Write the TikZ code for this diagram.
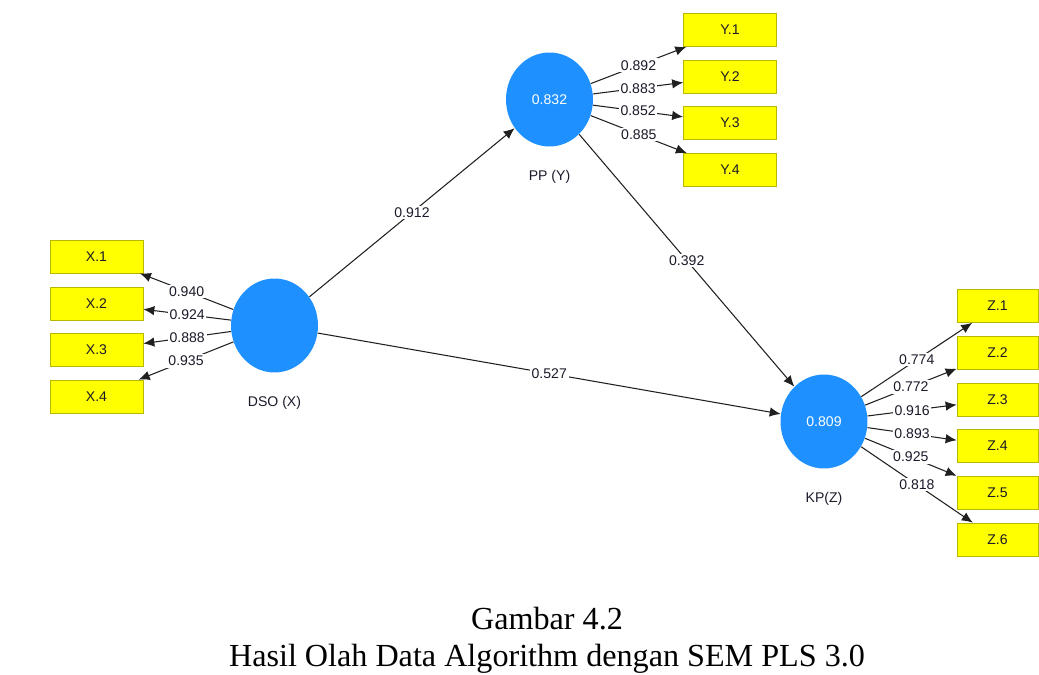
\documentclass[tikz,border=0pt]{standalone}
\usepackage{fontspec}
\setmainfont{Liberation Serif}
\newfontfamily\plsfont{Liberation Sans}
\usetikzlibrary{arrows.meta,shapes.geometric,positioning}

\begin{document}
\begin{tikzpicture}[x=0.02cm, y=-0.02cm,
    indicator/.style={draw=borderColour, fill=boxColour, minimum width=1.86cm, minimum height=0.66cm, inner sep=0pt, text=textColour, font=\plsfont\fontsize{8}{9}\selectfont},
    latent/.style={ellipse, fill=latentColour, minimum width=1.74cm, minimum height=1.88cm, inner sep=0pt, text=white, font=\plsfont\fontsize{8}{9}\selectfont},
    latentname/.style={text=textColour, font=\plsfont\fontsize{8}{9}\selectfont},
    loading/.style={draw=lineColour, line width=0.6pt, -{Latex[length=0.22cm,width=0.19cm]}},
    coef/.style={fill=white, inner sep=1pt, text=textColour, font=\plsfont\fontsize{8}{9}\selectfont},
    caption/.style={anchor=base, font=\fontsize{18.3}{20}\selectfont}]
    \definecolor{borderColour}{HTML}{B8B800}
    \definecolor{boxColour}{HTML}{FFFF00}
    \definecolor{latentColour}{HTML}{1E90FF}
    \definecolor{lineColour}{HTML}{202020}
    \definecolor{textColour}{HTML}{1A1A2A}

    \useasboundingbox (0,0) rectangle (1039,675);

    % Latent variables
    \node[latent] (dso) at (274.5,325.5) {};
    \node[latent] (pp) at (549.5,99.5) {0.832};
    \node[latent] (kp) at (824,421.5) {0.809};

    \node[latentname, below=0.34cm of dso] (dsoname) {DSO (X)};
    \node[latentname, below=0.34cm of pp] (ppname) {PP (Y)};
    \node[latentname, below=0.34cm of kp] (kpname) {KP(Z)};

    % Indicators of DSO (X)
    \foreach \i/\yy/\val in {1/256.5/0.940, 2/303.5/0.924, 3/350/0.888, 4/396.5/0.935} {
        \node[indicator] (x\i) at (96.5,\yy) {X.\i};
        \draw[loading] (dso) -- node[coef] {\val} (x\i);
    }

    % Indicators of PP (Y)
    \foreach \i/\yy/\val in {1/30/0.892, 2/76.5/0.883, 3/123/0.852, 4/170/0.885} {
        \node[indicator] (y\i) at (730,\yy) {Y.\i};
        \draw[loading] (pp) -- node[coef] {\val} (y\i);
    }

    % Indicators of KP (Z)
    \foreach \i/\yy/\val in {1/306/0.774, 2/352.5/0.772, 3/399.5/0.916, 4/446/0.893, 5/492.5/0.925, 6/539.5/0.818} {
        \node[indicator, minimum width=1.62cm] (z\i) at (997.5,\yy) {Z.\i};
        \draw[loading] (kp) -- node[coef] {\val} (z\i);
    }

    % Structural paths
    \draw[loading] (dso) -- node[coef] {0.912} (pp);
    \draw[loading] (pp) -- node[coef] {0.392} (kp);
    \draw[loading] (dso) -- node[coef] {0.527} (kp);

    % Caption
    \node[caption] (figno) at (547,630) {Gambar 4.2};
    \node[caption] (figtitle) at (547,667) {Hasil Olah Data Algorithm dengan SEM PLS 3.0};

\end{tikzpicture}
\end{document}
